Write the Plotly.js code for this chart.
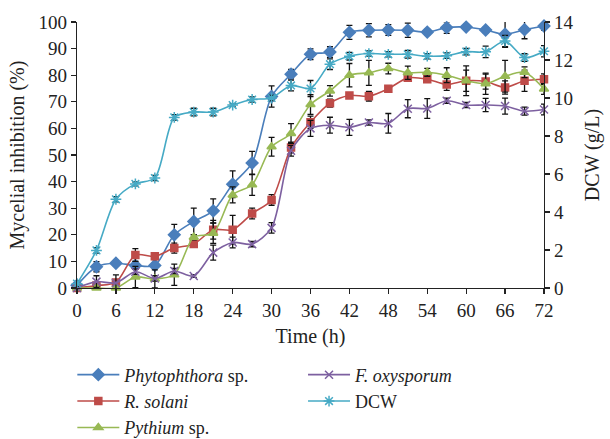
<!DOCTYPE html>
<html>
<head>
<meta charset="utf-8">
<script src="https://cdn.plot.ly/plotly-3.0.1.min.js"></script>
<style>html,body{margin:0;padding:0;background:#fff;}#chart{width:610px;height:439px;}</style>
</head>
<body>
<div id="chart"></div>
<script>
const time = [0,3,6,9,12,15,18,21,24,27,30,33,36,39,42,45,48,51,54,57,60,63,66,69,72];
const phytophthora = [1, 8, 9.3, 8.5, 8.5, 20, 25, 29, 39, 47, 72, 80.4, 87.9, 88.7, 96.1, 96.9, 97, 96.9, 96.2, 97.9, 98.1, 97, 95.4, 97.1, 98.5];
const phytophthoraErr = [0.5, 1.9, 1, 1.5, 1, 3.9, 5, 4.5, 5, 4.4, 4, 1.8, 2, 2, 2.6, 2.5, 2, 2.7, 1, 2.2, 1, 1, 4.9, 3.4, 1.5];
const rSolani = [0, 0.9, 2.1, 12.4, 11.9, 15, 16.5, 21.9, 21.9, 28, 33.1, 52.8, 62.3, 69.5, 72.4, 72.1, 74.9, 79, 78.5, 76.5, 77.9, 77.6, 75.4, 77.9, 78.5];
const rSolaniErr = [0.5, 1, 1, 2.4, 1.2, 1.9, 1, 3.5, 5.4, 2, 2, 2, 2.3, 1.5, 1, 1.8, 1, 1, 1, 2.2, 4, 2.8, 2.5, 4, 2];
const pythium = [0, 0, 0, 4.1, 3.4, 5, 19.1, 20.6, 35, 38.8, 53.1, 58.1, 69, 74.1, 80, 80.9, 82.5, 80.9, 81.1, 80, 77.9, 76.8, 79.6, 81.1, 74.8];
const pythiumErr = [0.3, 0.5, 0.5, 4, 3.4, 4, 1, 3.8, 3, 4, 3.5, 3.7, 3.7, 2, 4.4, 4.7, 2, 2.5, 1.5, 2.8, 5.6, 4, 6, 2, 2];
const fOxysporum = [0, 2.4, 1.9, 6.1, 3.6, 6.4, 4.5, 13.3, 17.1, 16.5, 22.6, 51.6, 60, 61.2, 60.4, 62.2, 61.9, 67.4, 67.5, 70.4, 68.8, 68.8, 68.4, 66.5, 67.1];
const fOxysporumErr = [0.3, 2.2, 3, 1, 1, 1, 0.5, 2.8, 2, 1, 2, 2, 3, 3, 3, 1, 3.7, 3.4, 3.7, 1, 1, 2.5, 3, 1.5, 2];
const dcw = [0.23, 1.98, 4.67, 5.48, 5.79, 8.98, 9.26, 9.26, 9.63, 9.92, 10.0, 10.66, 10.5, 11.78, 12.2, 12.34, 12.3, 12.3, 12.2, 12.23, 12.44, 12.43, 13.0, 12.13, 12.46];
const dcwErr = [0.14, 0.14, 0.14, 0.1, 0.14, 0.14, 0.2, 0.2, 0.07, 0.14, 0.14, 0.28, 0.42, 0.28, 0.2, 0.14, 0.14, 0.2, 0.14, 0.14, 0.17, 0.3, 0.3, 0.2, 0.3];
const xTicks = [0,6,12,18,24,30,36,42,48,54,60,66,72];

const FONT = '"Liberation Serif", "DejaVu Serif", serif';

function series(name, y, err, color, symbol, size, legendId, axis) {
  return {
    x: time, y: y, name: name, type: 'scatter', mode: 'lines+markers',
    yaxis: axis || 'y', legend: legendId, cliponaxis: false,
    line: {color: color, width: 1.6, shape: 'spline', smoothing: 0.8},
    marker: {color: color, symbol: symbol, size: size, line: {color: color, width: 1.5}},
    error_y: {type: 'data', array: err, visible: true, color: '#111', thickness: 1.3, width: 3}
  };
}

const data = [
  series('<i>Phytophthora</i> sp.', phytophthora, phytophthoraErr, '#4a7ebb', 'diamond', 9, 'legend'),
  series('<i>R. solani</i>', rSolani, rSolaniErr, '#be4b48', 'square', 7, 'legend'),
  series('<i>Pythium</i> sp.', pythium, pythiumErr, '#98b954', 'triangle-up', 8, 'legend'),
  series('<i>F. oxysporum</i>', fOxysporum, fOxysporumErr, '#7d60a0', 'x-thin-open', 8, 'legend2'),
  series('DCW', dcw, dcwErr, '#46aac5', 'asterisk-open', 9, 'legend2', 'y2')
];

const legendBase = {
  orientation: 'v', xref: 'paper', xanchor: 'left',
  yref: 'container', y: 0.188, yanchor: 'top',
  itemwidth: 42, traceorder: 'normal',
  font: {family: FONT, size: 18, color: '#222'},
  bgcolor: 'rgba(0,0,0,0)', tracegroupgap: 0
};

const layout = {
  width: 610, height: 439,
  margin: {l: 77, r: 66, t: 22, b: 151},
  paper_bgcolor: '#fff', plot_bgcolor: '#fff',
  font: {family: FONT, size: 19, color: '#222'},
  showlegend: true,
  xaxis: {
    range: [0, 72], tickvals: xTicks, ticktext: xTicks.map(String),
    showgrid: false, zeroline: false, showline: true, linecolor: '#222', linewidth: 1.2,
    ticks: 'outside', ticklen: 5, tickcolor: '#222', tickwidth: 1.2,
    tickfont: {family: FONT, size: 19, color: '#222'},
    title: {text: 'Time (h)', font: {family: FONT, size: 20, color: '#222'}, standoff: 9}
  },
  yaxis: {
    range: [0, 100], dtick: 10, tick0: 0,
    showgrid: false, zeroline: false, showline: true, linecolor: '#222', linewidth: 1.2,
    ticks: 'outside', ticklen: 5, tickcolor: '#222', tickwidth: 1.2,
    tickfont: {family: FONT, size: 19, color: '#222'},
    title: {text: 'Mycelial inhibition (%)', font: {family: FONT, size: 20, color: '#222'}, standoff: 8}
  },
  yaxis2: {
    range: [0, 14], dtick: 2, tick0: 0, overlaying: 'y', side: 'right',
    showgrid: false, zeroline: false, showline: true, linecolor: '#222', linewidth: 1.2,
    ticks: 'outside', ticklen: 5, tickcolor: '#222', tickwidth: 1.2,
    tickfont: {family: FONT, size: 19, color: '#222'},
    title: {text: 'DCW (g/L)', font: {family: FONT, size: 20, color: '#222'}, standoff: 12}
  },
  legend: Object.assign({}, legendBase, {x: -0.01}),
  legend2: Object.assign({}, legendBase, {x: 0.484})
};

Plotly.newPlot('chart', data, layout, {staticPlot: true, displayModeBar: false});
</script>
</body>
</html>
